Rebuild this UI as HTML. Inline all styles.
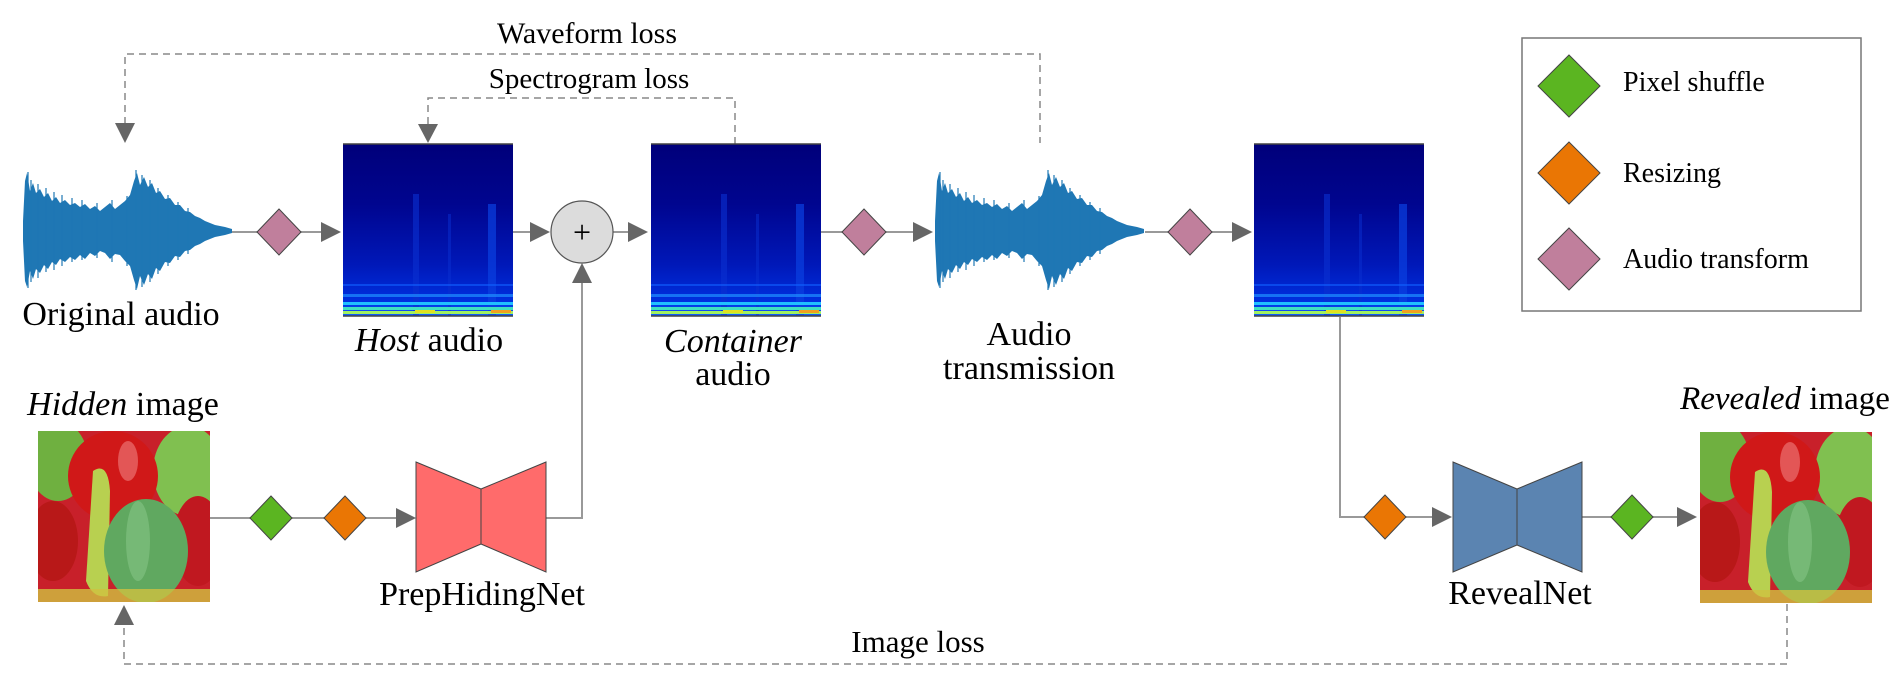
<!DOCTYPE html>
<html><head><meta charset="utf-8"><style>
html,body{margin:0;padding:0;background:#fff;}
svg{display:block;}
svg text{font-family:"Liberation Serif","Times New Roman",serif;fill:#000;}
</style></head><body>
<svg width="1900" height="700" viewBox="0 0 1900 700" xmlns="http://www.w3.org/2000/svg">
<defs>
  <linearGradient id="sg" x1="0" y1="0" x2="0" y2="1">
    <stop offset="0" stop-color="#00007a"/>
    <stop offset="0.35" stop-color="#00058f"/>
    <stop offset="0.7" stop-color="#0018b8"/>
    <stop offset="0.92" stop-color="#0030e0"/>
    <stop offset="1" stop-color="#1060ff"/>
  </linearGradient>
  <clipPath id="pc"><rect x="0" y="0" width="172" height="171"/></clipPath>
  <g id="spec">
    <rect x="0" y="0" width="170" height="172" fill="url(#sg)"/>
    <rect x="70" y="50" width="6" height="122" fill="#0a30d0" opacity="0.6"/>
    <rect x="145" y="60" width="8" height="112" fill="#0a40e0" opacity="0.7"/>
    <rect x="105" y="70" width="3" height="102" fill="#0a30d0" opacity="0.5"/>
    <rect x="0" y="140" width="170" height="2" fill="#1060ff" opacity="0.6"/>
    <rect x="0" y="150" width="170" height="3" fill="#2090ff" opacity="0.7"/>
    <rect x="0" y="158" width="170" height="3" fill="#20c0ff"/>
    <rect x="0" y="163" width="170" height="3" fill="#40e0c0"/>
    <rect x="0" y="167" width="170" height="3" fill="#a0f060"/>
    <rect x="72" y="166" width="20" height="3" fill="#e0e020"/>
    <rect x="148" y="166" width="20" height="3" fill="#f0a020"/>
    <line x1="0" y1="0" x2="170" y2="0" stroke="#444" stroke-width="1.5"/>
    <line x1="0" y1="172" x2="170" y2="172" stroke="#444" stroke-width="1.5"/>
  </g>
  <g id="wave">
    <polygon fill="#1f77b4" points="23,221 25,181 27,173 30,191 33,183 36,193 40,189 44,197 48,193 52,201 56,197 60,203 65,200 70,205 75,203 80,207 85,204 90,209 95,206 100,211 105,207 110,203 115,209 120,205 125,201 130,195 134,181 137,173 140,185 144,177 148,187 152,183 156,193 160,191 165,199 170,198 175,205 180,205 185,211 190,212 195,216 200,218 205,221 210,223 215,225 220,226 225,227 232,229 232,233 225,235 220,236 215,237 210,239 205,241 200,244 195,246 190,250 185,251 180,257 175,256 170,263 165,262 160,271 156,268 152,279 148,274 144,285 140,276 137,289 134,280 130,266 125,261 120,255 115,254 110,259 105,253 100,251 95,256 90,253 85,259 80,255 75,260 70,257 65,262 60,259 56,265 52,262 48,269 44,265 40,273 36,269 33,279 30,271 27,287 25,281 23,241"/>
    <g stroke="#1f77b4" stroke-width="1.2">
      <line x1="28" y1="172" x2="28" y2="288"/><line x1="31" y1="180" x2="31" y2="282"/>
      <line x1="38" y1="184" x2="38" y2="278"/><line x1="46" y1="188" x2="46" y2="272"/>
      <line x1="54" y1="192" x2="54" y2="270"/><line x1="62" y1="195" x2="62" y2="266"/>
      <line x1="72" y1="198" x2="72" y2="262"/><line x1="82" y1="200" x2="82" y2="260"/>
      <line x1="97" y1="203" x2="97" y2="258"/><line x1="112" y1="200" x2="112" y2="262"/>
      <line x1="127" y1="196" x2="127" y2="266"/><line x1="136" y1="170" x2="136" y2="290"/>
      <line x1="142" y1="175" x2="142" y2="287"/><line x1="150" y1="180" x2="150" y2="282"/>
      <line x1="158" y1="188" x2="158" y2="274"/><line x1="168" y1="195" x2="168" y2="266"/>
      <line x1="178" y1="202" x2="178" y2="260"/><line x1="188" y1="208" x2="188" y2="254"/>
    </g>
  </g>
  <g id="pep">
    <g clip-path="url(#pc)">
    <rect x="0" y="0" width="172" height="171" fill="#c8202a"/>
    <ellipse cx="20" cy="30" rx="30" ry="40" fill="#6fb040"/>
    <ellipse cx="150" cy="40" rx="35" ry="45" fill="#80c050"/>
    <ellipse cx="75" cy="45" rx="45" ry="45" fill="#d01818"/>
    <ellipse cx="90" cy="30" rx="10" ry="20" fill="#f08080" opacity="0.6"/>
    <ellipse cx="160" cy="110" rx="25" ry="45" fill="#c01820"/>
    <ellipse cx="15" cy="110" rx="25" ry="40" fill="#b81818"/>
    <path d="M55 40 Q70 30 72 60 L70 165 Q55 168 48 150 Z" fill="#b8d050"/>
    <ellipse cx="108" cy="120" rx="42" ry="52" fill="#60a860"/>
    <ellipse cx="100" cy="110" rx="12" ry="40" fill="#80c080" opacity="0.7"/>
    <rect x="0" y="158" width="172" height="13" fill="#d0c040" opacity="0.8"/>
    </g>
  </g>
</defs>

<g fill="none" stroke="#888" stroke-width="1.5" stroke-dasharray="7,5">
  <path d="M125 124 V54 H1040 V143"/>
  <path d="M428 124 V98 H735 V144"/>
  <path d="M1787 604 V664 H124 V624"/>
</g>
<g fill="#666">
  <polygon points="115,123 135,123 125,143"/>
  <polygon points="418,124 438,124 428,143"/>
  <polygon points="114,625 134,625 124,605"/>
</g>
<g font-family="Liberation Serif, serif">
<text x="587" y="43" font-size="30" text-anchor="middle">Waveform loss</text>
<text x="589" y="88" font-size="29" text-anchor="middle">Spectrogram loss</text>
<text x="918" y="652" font-size="31" text-anchor="middle">Image loss</text>
</g>

<g stroke="#999" stroke-width="2" fill="none">
  <line x1="232" y1="232" x2="322" y2="232"/>
  <line x1="513" y1="232" x2="531" y2="232"/>
  <line x1="613" y1="232" x2="629" y2="232"/>
  <line x1="821" y1="232" x2="914" y2="232"/>
  <line x1="1145" y1="232" x2="1233" y2="232"/>
  <path d="M546 518 H582 V283"/>
  <line x1="209" y1="518" x2="397" y2="518"/>
  <path d="M1340 317 V517 H1433"/>
  <line x1="1582" y1="517" x2="1678" y2="517"/>
</g>
<g fill="#666">
  <polygon points="321,222 341,232 321,242"/>
  <polygon points="530,222 550,232 530,242"/>
  <polygon points="628,222 648,232 628,242"/>
  <polygon points="913,222 933,232 913,242"/>
  <polygon points="1232,222 1252,232 1232,242"/>
  <polygon points="572,283 592,283 582,263"/>
  <polygon points="396,508 416,518 396,528"/>
  <polygon points="1432,507 1452,517 1432,527"/>
  <polygon points="1677,507 1697,517 1677,527"/>
</g>

<use href="#wave"/>
<use href="#wave" transform="translate(912,0)"/>

<use href="#spec" transform="translate(343,144)"/>
<use href="#spec" transform="translate(651,144)"/>
<use href="#spec" transform="translate(1254,144)"/>

<circle cx="582" cy="232" r="31" fill="#dcdcdc" stroke="#555" stroke-width="1.2"/>
<text x="582" y="243" font-size="32" text-anchor="middle" font-family="Liberation Serif, serif">+</text>

<g stroke="#444" stroke-width="1">
  <polygon points="279,209 301,232 279,255 257,232" fill="#c07f9c"/>
  <polygon points="864,209 886,232 864,255 842,232" fill="#c07f9c"/>
  <polygon points="1190,209 1212,232 1190,255 1168,232" fill="#c07f9c"/>
  <polygon points="271,496 292,518 271,540 250,518" fill="#5bb521"/>
  <polygon points="345,496 366,518 345,540 324,518" fill="#ea7604"/>
  <polygon points="1385,495 1406,517 1385,539 1364,517" fill="#ea7604"/>
  <polygon points="1632,495 1653,517 1632,539 1611,517" fill="#5bb521"/>
</g>

<g stroke="#444" stroke-width="1">
  <polygon points="416,462 481,489 481,544 416,572" fill="#ff6b6b"/>
  <polygon points="546,462 481,489 481,544 546,572" fill="#ff6b6b"/>
  <polygon points="1453,462 1517,489 1517,545 1453,572" fill="#5b84b1"/>
  <polygon points="1582,462 1517,489 1517,545 1582,572" fill="#5b84b1"/>
</g>

<use href="#pep" transform="translate(38,431)"/>
<use href="#pep" transform="translate(1700,432)"/>

<g font-family="Liberation Serif, serif">
<text x="121" y="325" font-size="34" text-anchor="middle">Original audio</text>
<text x="429" y="351" font-size="34" text-anchor="middle"><tspan font-style="italic">Host</tspan> audio</text>
<text x="733" y="352" font-size="34" text-anchor="middle" font-style="italic">Container</text>
<text x="733" y="385" font-size="34" text-anchor="middle">audio</text>
<text x="1029" y="345" font-size="34" text-anchor="middle">Audio</text>
<text x="1029" y="379" font-size="34" text-anchor="middle">transmission</text>
<text x="123" y="415" font-size="34" text-anchor="middle"><tspan font-style="italic">Hidden</tspan> image</text>
<text x="482" y="605" font-size="34" text-anchor="middle">PrepHidingNet</text>
<text x="1520" y="604" font-size="34" text-anchor="middle">RevealNet</text>
<text x="1785" y="409" font-size="33" text-anchor="middle"><tspan font-style="italic">Revealed</tspan> image</text>
</g>

<rect x="1522" y="38" width="339" height="273" fill="#fff" stroke="#777" stroke-width="1.5"/>
<g stroke="#444" stroke-width="1">
  <polygon points="1569,55 1600,86 1569,117 1538,86" fill="#5bb521"/>
  <polygon points="1569,142 1600,173 1569,204 1538,173" fill="#ea7604"/>
  <polygon points="1569,228 1600,259 1569,290 1538,259" fill="#c07f9c"/>
</g>
<g font-family="Liberation Serif, serif">
<text x="1623" y="91" font-size="28">Pixel shuffle</text>
<text x="1623" y="182" font-size="28">Resizing</text>
<text x="1623" y="268" font-size="28">Audio transform</text>
</g>
</svg>
</body></html>
